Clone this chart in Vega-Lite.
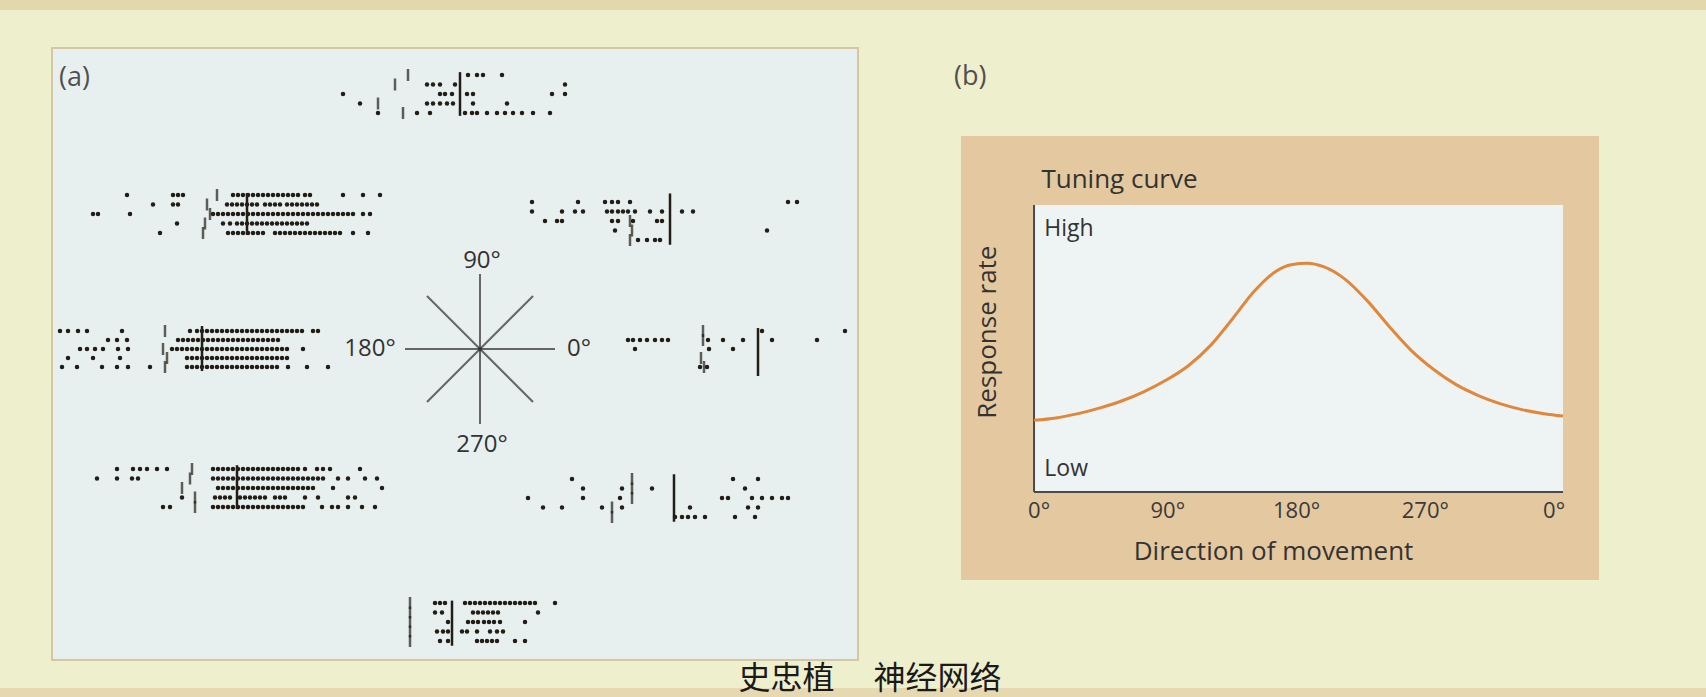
{
"$schema": "https://vega.github.io/schema/vega-lite/v6.json",
"width": 1706, "height": 697,
"autosize": {"type": "none"},
"padding": 0,
"background": "#eeefcd",
"config": {"view": {"stroke": null}, "font": "Open Sans"},
"datasets": {
"star": [{"dir": 0}, {"dir": 45}, {"dir": 90}, {"dir": 135}],
"ticklabels": [{"deg": 0, "lab": "0°"}, {"deg": 90, "lab": "90°"}, {"deg": 180, "lab": "180°"}, {"deg": 270, "lab": "270°"}, {"deg": 360, "lab": "0°"}],
"curve": [{"deg":0,"rate":0.25},{"deg":15,"rate":0.258},{"deg":30,"rate":0.273},{"deg":45,"rate":0.293},{"deg":60,"rate":0.318},{"deg":75,"rate":0.35},{"deg":90,"rate":0.39},{"deg":105,"rate":0.44},{"deg":120,"rate":0.51},{"deg":135,"rate":0.603},{"deg":150,"rate":0.7},{"deg":165,"rate":0.77},{"deg":175,"rate":0.792},{"deg":186,"rate":0.797},{"deg":197,"rate":0.785},{"deg":212,"rate":0.74},{"deg":227,"rate":0.665},{"deg":242,"rate":0.575},{"deg":257,"rate":0.492},{"deg":272,"rate":0.427},{"deg":287,"rate":0.375},{"deg":302,"rate":0.337},{"deg":317,"rate":0.308},{"deg":332,"rate":0.287},{"deg":347,"rate":0.273},{"deg":360,"rate":0.265}],
"targets": [
{"d":90,"r":1,"t":-260},{"d":90,"r":2,"t":-325},{"d":90,"r":4,"t":-410},{"d":90,"r":5,"t":-285},
{"d":135,"r":1,"t":-150},{"d":135,"r":2,"t":-200},{"d":135,"r":3,"t":-185},{"d":135,"r":4,"t":-210},{"d":135,"r":5,"t":-220},
{"d":45,"r":3,"t":-200},{"d":45,"r":4,"t":-190},{"d":45,"r":5,"t":-200},
{"d":180,"r":1,"t":-185},{"d":180,"r":3,"t":-195},{"d":180,"r":4,"t":-175},{"d":180,"r":5,"t":-185},
{"d":0,"r":1,"t":-275},{"d":0,"r":2,"t":-275},{"d":0,"r":4,"t":-285},{"d":0,"r":5,"t":-270},
{"d":225,"r":1,"t":-225},{"d":225,"r":2,"t":-235},{"d":225,"r":3,"t":-275},{"d":225,"r":4,"t":-210},{"d":225,"r":5,"t":-210},
{"d":315,"r":1,"t":-210},{"d":315,"r":2,"t":-210},{"d":315,"r":3,"t":-210},{"d":315,"r":4,"t":-310},{"d":315,"r":5,"t":-310},
{"d":270,"r":1,"t":-210},{"d":270,"r":2,"t":-210},{"d":270,"r":3,"t":-210},{"d":270,"r":4,"t":-210},{"d":270,"r":5,"t":-210}
],
"spikes": [
{"d":90,"r":1,"t":40},{"d":90,"r":1,"t":85},{"d":90,"r":1,"t":115},{"d":90,"r":1,"t":210},
{"d":90,"r":2,"t":-165},{"d":90,"r":2,"t":-135},{"d":90,"r":2,"t":-100},{"d":90,"r":2,"t":-25},{"d":90,"r":2,"t":525},
{"d":90,"r":3,"t":-585},{"d":90,"r":3,"t":-100},{"d":90,"r":3,"t":-75},{"d":90,"r":3,"t":-40},{"d":90,"r":3,"t":35},{"d":90,"r":3,"t":65},{"d":90,"r":3,"t":460},{"d":90,"r":3,"t":525},
{"d":90,"r":4,"t":-500},{"d":90,"r":4,"t":-165},{"d":90,"r":4,"t":-135},{"d":90,"r":4,"t":-100},{"d":90,"r":4,"t":-65},{"d":90,"r":4,"t":-35},{"d":90,"r":4,"t":65},{"d":90,"r":4,"t":235},
{"d":90,"r":5,"t":-410},{"d":90,"r":5,"t":-215},{"d":90,"r":5,"t":-150},{"d":90,"r":5,"t":25},{"d":90,"r":5,"t":60},{"d":90,"r":5,"t":85},{"d":90,"r":5,"t":135},{"d":90,"r":5,"t":185},{"d":90,"r":5,"t":225},{"d":90,"r":5,"t":265},{"d":90,"r":5,"t":310},{"d":90,"r":5,"t":365},{"d":90,"r":5,"t":450},

{"d":135,"r":1,"t":-600},{"d":135,"r":1,"t":-370},{"d":135,"r":1,"t":-345},{"d":135,"r":1,"t":-320},{"d":135,"r":1,"t":-70},{"d":135,"r":1,"t":-45},{"d":135,"r":1,"t":-20},{"d":135,"r":1,"t":5},{"d":135,"r":1,"t":30},{"d":135,"r":1,"t":55},{"d":135,"r":1,"t":80},{"d":135,"r":1,"t":105},{"d":135,"r":1,"t":130},{"d":135,"r":1,"t":155},{"d":135,"r":1,"t":180},{"d":135,"r":1,"t":205},{"d":135,"r":1,"t":230},{"d":135,"r":1,"t":255},{"d":135,"r":1,"t":290},{"d":135,"r":1,"t":315},{"d":135,"r":1,"t":480},{"d":135,"r":1,"t":580},{"d":135,"r":1,"t":665},
{"d":135,"r":2,"t":-470},{"d":135,"r":2,"t":-370},{"d":135,"r":2,"t":-345},{"d":135,"r":2,"t":-100},{"d":135,"r":2,"t":-75},{"d":135,"r":2,"t":-50},{"d":135,"r":2,"t":-25},{"d":135,"r":2,"t":0},{"d":135,"r":2,"t":25},{"d":135,"r":2,"t":50},{"d":135,"r":2,"t":90},{"d":135,"r":2,"t":115},{"d":135,"r":2,"t":140},{"d":135,"r":2,"t":165},{"d":135,"r":2,"t":200},{"d":135,"r":2,"t":225},{"d":135,"r":2,"t":250},{"d":135,"r":2,"t":275},{"d":135,"r":2,"t":300},{"d":135,"r":2,"t":325},{"d":135,"r":2,"t":350},
{"d":135,"r":3,"t":-770},{"d":135,"r":3,"t":-745},{"d":135,"r":3,"t":-585},{"d":135,"r":3,"t":-170},{"d":135,"r":3,"t":-145},{"d":135,"r":3,"t":-120},{"d":135,"r":3,"t":-95},{"d":135,"r":3,"t":-70},{"d":135,"r":3,"t":-45},{"d":135,"r":3,"t":-20},{"d":135,"r":3,"t":5},{"d":135,"r":3,"t":30},{"d":135,"r":3,"t":55},{"d":135,"r":3,"t":80},{"d":135,"r":3,"t":105},{"d":135,"r":3,"t":130},{"d":135,"r":3,"t":155},{"d":135,"r":3,"t":180},{"d":135,"r":3,"t":205},{"d":135,"r":3,"t":230},{"d":135,"r":3,"t":255},{"d":135,"r":3,"t":280},{"d":135,"r":3,"t":305},{"d":135,"r":3,"t":330},{"d":135,"r":3,"t":355},{"d":135,"r":3,"t":380},{"d":135,"r":3,"t":405},{"d":135,"r":3,"t":430},{"d":135,"r":3,"t":455},{"d":135,"r":3,"t":480},{"d":135,"r":3,"t":505},{"d":135,"r":3,"t":530},{"d":135,"r":3,"t":580},{"d":135,"r":3,"t":615},
{"d":135,"r":4,"t":-350},{"d":135,"r":4,"t":-120},{"d":135,"r":4,"t":-85},{"d":135,"r":4,"t":-50},{"d":135,"r":4,"t":-25},{"d":135,"r":4,"t":0},{"d":135,"r":4,"t":25},{"d":135,"r":4,"t":50},{"d":135,"r":4,"t":75},{"d":135,"r":4,"t":100},{"d":135,"r":4,"t":125},{"d":135,"r":4,"t":150},{"d":135,"r":4,"t":175},{"d":135,"r":4,"t":200},{"d":135,"r":4,"t":225},{"d":135,"r":4,"t":250},{"d":135,"r":4,"t":275},{"d":135,"r":4,"t":300},
{"d":135,"r":5,"t":-435},{"d":135,"r":5,"t":-95},{"d":135,"r":5,"t":-70},{"d":135,"r":5,"t":-45},{"d":135,"r":5,"t":-20},{"d":135,"r":5,"t":5},{"d":135,"r":5,"t":30},{"d":135,"r":5,"t":55},{"d":135,"r":5,"t":80},{"d":135,"r":5,"t":140},{"d":135,"r":5,"t":165},{"d":135,"r":5,"t":190},{"d":135,"r":5,"t":215},{"d":135,"r":5,"t":240},{"d":135,"r":5,"t":265},{"d":135,"r":5,"t":290},{"d":135,"r":5,"t":315},{"d":135,"r":5,"t":340},{"d":135,"r":5,"t":365},{"d":135,"r":5,"t":390},{"d":135,"r":5,"t":415},{"d":135,"r":5,"t":440},{"d":135,"r":5,"t":465},{"d":135,"r":5,"t":530},{"d":135,"r":5,"t":605},

{"d":45,"r":1,"t":-690},{"d":45,"r":1,"t":-460},{"d":45,"r":1,"t":-325},{"d":45,"r":1,"t":-290},{"d":45,"r":1,"t":-260},{"d":45,"r":1,"t":-200},{"d":45,"r":1,"t":590},{"d":45,"r":1,"t":635},
{"d":45,"r":2,"t":-690},{"d":45,"r":2,"t":-540},{"d":45,"r":2,"t":-475},{"d":45,"r":2,"t":-435},{"d":45,"r":2,"t":-315},{"d":45,"r":2,"t":-290},{"d":45,"r":2,"t":-260},{"d":45,"r":2,"t":-235},{"d":45,"r":2,"t":-210},{"d":45,"r":2,"t":-175},{"d":45,"r":2,"t":-100},{"d":45,"r":2,"t":-40},{"d":45,"r":2,"t":60},{"d":45,"r":2,"t":115},
{"d":45,"r":3,"t":-625},{"d":45,"r":3,"t":-565},{"d":45,"r":3,"t":-540},{"d":45,"r":3,"t":-290},{"d":45,"r":3,"t":-260},{"d":45,"r":3,"t":-185},{"d":45,"r":3,"t":-65},{"d":45,"r":3,"t":-40},
{"d":45,"r":4,"t":-275},{"d":45,"r":4,"t":485},
{"d":45,"r":5,"t":-160},{"d":45,"r":5,"t":-115},{"d":45,"r":5,"t":-75},{"d":45,"r":5,"t":-50},

{"d":180,"r":1,"t":-710},{"d":180,"r":1,"t":-670},{"d":180,"r":1,"t":-620},{"d":180,"r":1,"t":-575},{"d":180,"r":1,"t":-400},{"d":180,"r":1,"t":-60},{"d":180,"r":1,"t":-25},{"d":180,"r":1,"t":0},{"d":180,"r":1,"t":25},{"d":180,"r":1,"t":50},{"d":180,"r":1,"t":75},{"d":180,"r":1,"t":100},{"d":180,"r":1,"t":125},{"d":180,"r":1,"t":150},{"d":180,"r":1,"t":175},{"d":180,"r":1,"t":200},{"d":180,"r":1,"t":225},{"d":180,"r":1,"t":250},{"d":180,"r":1,"t":275},{"d":180,"r":1,"t":300},{"d":180,"r":1,"t":325},{"d":180,"r":1,"t":350},{"d":180,"r":1,"t":375},{"d":180,"r":1,"t":400},{"d":180,"r":1,"t":425},{"d":180,"r":1,"t":450},{"d":180,"r":1,"t":475},{"d":180,"r":1,"t":500},{"d":180,"r":1,"t":555},{"d":180,"r":1,"t":580},
{"d":180,"r":2,"t":-470},{"d":180,"r":2,"t":-425},{"d":180,"r":2,"t":-375},{"d":180,"r":2,"t":-120},{"d":180,"r":2,"t":-95},{"d":180,"r":2,"t":-70},{"d":180,"r":2,"t":-45},{"d":180,"r":2,"t":-20},{"d":180,"r":2,"t":5},{"d":180,"r":2,"t":30},{"d":180,"r":2,"t":55},{"d":180,"r":2,"t":80},{"d":180,"r":2,"t":105},{"d":180,"r":2,"t":130},{"d":180,"r":2,"t":155},{"d":180,"r":2,"t":180},{"d":180,"r":2,"t":205},{"d":180,"r":2,"t":230},{"d":180,"r":2,"t":255},{"d":180,"r":2,"t":280},{"d":180,"r":2,"t":305},{"d":180,"r":2,"t":330},{"d":180,"r":2,"t":355},{"d":180,"r":2,"t":380},
{"d":180,"r":3,"t":-610},{"d":180,"r":3,"t":-575},{"d":180,"r":3,"t":-535},{"d":180,"r":3,"t":-495},{"d":180,"r":3,"t":-420},{"d":180,"r":3,"t":-370},{"d":180,"r":3,"t":-150},{"d":180,"r":3,"t":-125},{"d":180,"r":3,"t":-100},{"d":180,"r":3,"t":-75},{"d":180,"r":3,"t":-50},{"d":180,"r":3,"t":-25},{"d":180,"r":3,"t":0},{"d":180,"r":3,"t":25},{"d":180,"r":3,"t":50},{"d":180,"r":3,"t":75},{"d":180,"r":3,"t":100},{"d":180,"r":3,"t":125},{"d":180,"r":3,"t":150},{"d":180,"r":3,"t":175},{"d":180,"r":3,"t":200},{"d":180,"r":3,"t":225},{"d":180,"r":3,"t":250},{"d":180,"r":3,"t":275},{"d":180,"r":3,"t":300},{"d":180,"r":3,"t":325},{"d":180,"r":3,"t":350},{"d":180,"r":3,"t":375},{"d":180,"r":3,"t":400},{"d":180,"r":3,"t":425},{"d":180,"r":3,"t":505},
{"d":180,"r":4,"t":-670},{"d":180,"r":4,"t":-545},{"d":180,"r":4,"t":-410},{"d":180,"r":4,"t":-75},{"d":180,"r":4,"t":-50},{"d":180,"r":4,"t":-25},{"d":180,"r":4,"t":0},{"d":180,"r":4,"t":25},{"d":180,"r":4,"t":50},{"d":180,"r":4,"t":75},{"d":180,"r":4,"t":100},{"d":180,"r":4,"t":125},{"d":180,"r":4,"t":150},{"d":180,"r":4,"t":175},{"d":180,"r":4,"t":200},{"d":180,"r":4,"t":225},{"d":180,"r":4,"t":250},{"d":180,"r":4,"t":275},{"d":180,"r":4,"t":300},{"d":180,"r":4,"t":325},{"d":180,"r":4,"t":350},{"d":180,"r":4,"t":375},{"d":180,"r":4,"t":400},{"d":180,"r":4,"t":425},
{"d":180,"r":5,"t":-700},{"d":180,"r":5,"t":-625},{"d":180,"r":5,"t":-500},{"d":180,"r":5,"t":-425},{"d":180,"r":5,"t":-370},{"d":180,"r":5,"t":-260},{"d":180,"r":5,"t":-75},{"d":180,"r":5,"t":-50},{"d":180,"r":5,"t":-25},{"d":180,"r":5,"t":0},{"d":180,"r":5,"t":25},{"d":180,"r":5,"t":50},{"d":180,"r":5,"t":75},{"d":180,"r":5,"t":100},{"d":180,"r":5,"t":125},{"d":180,"r":5,"t":150},{"d":180,"r":5,"t":175},{"d":180,"r":5,"t":200},{"d":180,"r":5,"t":225},{"d":180,"r":5,"t":250},{"d":180,"r":5,"t":275},{"d":180,"r":5,"t":300},{"d":180,"r":5,"t":325},{"d":180,"r":5,"t":350},{"d":180,"r":5,"t":375},{"d":180,"r":5,"t":430},{"d":180,"r":5,"t":525},{"d":180,"r":5,"t":630},

{"d":0,"r":1,"t":20},{"d":0,"r":1,"t":435},
{"d":0,"r":2,"t":-650},{"d":0,"r":2,"t":-625},{"d":0,"r":2,"t":-590},{"d":0,"r":2,"t":-555},{"d":0,"r":2,"t":-515},{"d":0,"r":2,"t":-480},{"d":0,"r":2,"t":-450},{"d":0,"r":2,"t":-250},{"d":0,"r":2,"t":-175},{"d":0,"r":2,"t":-75},{"d":0,"r":2,"t":70},{"d":0,"r":2,"t":295},
{"d":0,"r":3,"t":-615},{"d":0,"r":3,"t":-245},{"d":0,"r":3,"t":-125},
{"d":0,"r":5,"t":-290},{"d":0,"r":5,"t":-255},

{"d":225,"r":1,"t":-600},{"d":225,"r":1,"t":-520},{"d":225,"r":1,"t":-485},{"d":225,"r":1,"t":-450},{"d":225,"r":1,"t":-400},{"d":225,"r":1,"t":-350},{"d":225,"r":1,"t":-120},{"d":225,"r":1,"t":-95},{"d":225,"r":1,"t":-70},{"d":225,"r":1,"t":-45},{"d":225,"r":1,"t":-20},{"d":225,"r":1,"t":5},{"d":225,"r":1,"t":30},{"d":225,"r":1,"t":55},{"d":225,"r":1,"t":80},{"d":225,"r":1,"t":105},{"d":225,"r":1,"t":130},{"d":225,"r":1,"t":155},{"d":225,"r":1,"t":180},{"d":225,"r":1,"t":205},{"d":225,"r":1,"t":230},{"d":225,"r":1,"t":255},{"d":225,"r":1,"t":280},{"d":225,"r":1,"t":305},{"d":225,"r":1,"t":340},{"d":225,"r":1,"t":400},{"d":225,"r":1,"t":430},{"d":225,"r":1,"t":465},{"d":225,"r":1,"t":615},
{"d":225,"r":2,"t":-700},{"d":225,"r":2,"t":-600},{"d":225,"r":2,"t":-525},{"d":225,"r":2,"t":-495},{"d":225,"r":2,"t":-120},{"d":225,"r":2,"t":-95},{"d":225,"r":2,"t":-70},{"d":225,"r":2,"t":-45},{"d":225,"r":2,"t":-20},{"d":225,"r":2,"t":5},{"d":225,"r":2,"t":30},{"d":225,"r":2,"t":55},{"d":225,"r":2,"t":80},{"d":225,"r":2,"t":105},{"d":225,"r":2,"t":130},{"d":225,"r":2,"t":155},{"d":225,"r":2,"t":180},{"d":225,"r":2,"t":205},{"d":225,"r":2,"t":230},{"d":225,"r":2,"t":255},{"d":225,"r":2,"t":280},{"d":225,"r":2,"t":305},{"d":225,"r":2,"t":330},{"d":225,"r":2,"t":355},{"d":225,"r":2,"t":380},{"d":225,"r":2,"t":405},{"d":225,"r":2,"t":430},{"d":225,"r":2,"t":505},{"d":225,"r":2,"t":555},{"d":225,"r":2,"t":640},{"d":225,"r":2,"t":700},
{"d":225,"r":3,"t":-95},{"d":225,"r":3,"t":-70},{"d":225,"r":3,"t":-45},{"d":225,"r":3,"t":-20},{"d":225,"r":3,"t":5},{"d":225,"r":3,"t":30},{"d":225,"r":3,"t":55},{"d":225,"r":3,"t":80},{"d":225,"r":3,"t":105},{"d":225,"r":3,"t":130},{"d":225,"r":3,"t":155},{"d":225,"r":3,"t":180},{"d":225,"r":3,"t":205},{"d":225,"r":3,"t":230},{"d":225,"r":3,"t":255},{"d":225,"r":3,"t":280},{"d":225,"r":3,"t":305},{"d":225,"r":3,"t":330},{"d":225,"r":3,"t":355},{"d":225,"r":3,"t":380},{"d":225,"r":3,"t":480},{"d":225,"r":3,"t":725},
{"d":225,"r":4,"t":-275},{"d":225,"r":4,"t":-110},{"d":225,"r":4,"t":-85},{"d":225,"r":4,"t":-60},{"d":225,"r":4,"t":-35},{"d":225,"r":4,"t":15},{"d":225,"r":4,"t":40},{"d":225,"r":4,"t":65},{"d":225,"r":4,"t":90},{"d":225,"r":4,"t":115},{"d":225,"r":4,"t":140},{"d":225,"r":4,"t":190},{"d":225,"r":4,"t":215},{"d":225,"r":4,"t":240},{"d":225,"r":4,"t":340},{"d":225,"r":4,"t":405},{"d":225,"r":4,"t":555},{"d":225,"r":4,"t":590},
{"d":225,"r":5,"t":-370},{"d":225,"r":5,"t":-335},{"d":225,"r":5,"t":-120},{"d":225,"r":5,"t":-95},{"d":225,"r":5,"t":-70},{"d":225,"r":5,"t":-45},{"d":225,"r":5,"t":-20},{"d":225,"r":5,"t":5},{"d":225,"r":5,"t":30},{"d":225,"r":5,"t":55},{"d":225,"r":5,"t":80},{"d":225,"r":5,"t":105},{"d":225,"r":5,"t":130},{"d":225,"r":5,"t":155},{"d":225,"r":5,"t":180},{"d":225,"r":5,"t":205},{"d":225,"r":5,"t":230},{"d":225,"r":5,"t":255},{"d":225,"r":5,"t":280},{"d":225,"r":5,"t":305},{"d":225,"r":5,"t":330},{"d":225,"r":5,"t":425},{"d":225,"r":5,"t":475},{"d":225,"r":5,"t":505},{"d":225,"r":5,"t":555},{"d":225,"r":5,"t":625},{"d":225,"r":5,"t":690},

{"d":315,"r":1,"t":-510},{"d":315,"r":1,"t":295},{"d":315,"r":1,"t":420},
{"d":315,"r":2,"t":-455},{"d":315,"r":2,"t":-260},{"d":315,"r":2,"t":-110},{"d":315,"r":2,"t":355},
{"d":315,"r":3,"t":-730},{"d":315,"r":3,"t":-455},{"d":315,"r":3,"t":-270},{"d":315,"r":3,"t":240},{"d":315,"r":3,"t":270},{"d":315,"r":3,"t":390},{"d":315,"r":3,"t":440},{"d":315,"r":3,"t":490},{"d":315,"r":3,"t":540},{"d":315,"r":3,"t":570},
{"d":315,"r":4,"t":-655},{"d":315,"r":4,"t":-560},{"d":315,"r":4,"t":-360},{"d":315,"r":4,"t":-260},{"d":315,"r":4,"t":80},{"d":315,"r":4,"t":370},{"d":315,"r":4,"t":420},
{"d":315,"r":5,"t":5},{"d":315,"r":5,"t":40},{"d":315,"r":5,"t":70},{"d":315,"r":5,"t":105},{"d":315,"r":5,"t":155},{"d":315,"r":5,"t":305},{"d":315,"r":5,"t":405},

{"d":270,"r":1,"t":-85},{"d":270,"r":1,"t":-60},{"d":270,"r":1,"t":-35},{"d":270,"r":1,"t":65},{"d":270,"r":1,"t":90},{"d":270,"r":1,"t":115},{"d":270,"r":1,"t":140},{"d":270,"r":1,"t":165},{"d":270,"r":1,"t":190},{"d":270,"r":1,"t":215},{"d":270,"r":1,"t":240},{"d":270,"r":1,"t":265},{"d":270,"r":1,"t":290},{"d":270,"r":1,"t":315},{"d":270,"r":1,"t":340},{"d":270,"r":1,"t":365},{"d":270,"r":1,"t":390},{"d":270,"r":1,"t":415},{"d":270,"r":1,"t":515},
{"d":270,"r":2,"t":-85},{"d":270,"r":2,"t":-50},{"d":270,"r":2,"t":105},{"d":270,"r":2,"t":130},{"d":270,"r":2,"t":155},{"d":270,"r":2,"t":180},{"d":270,"r":2,"t":205},{"d":270,"r":2,"t":230},{"d":270,"r":2,"t":430},
{"d":270,"r":3,"t":-20},{"d":270,"r":3,"t":80},{"d":270,"r":3,"t":105},{"d":270,"r":3,"t":130},{"d":270,"r":3,"t":160},{"d":270,"r":3,"t":185},{"d":270,"r":3,"t":210},{"d":270,"r":3,"t":240},{"d":270,"r":3,"t":365},
{"d":270,"r":4,"t":-75},{"d":270,"r":4,"t":-45},{"d":270,"r":4,"t":-20},{"d":270,"r":4,"t":50},{"d":270,"r":4,"t":75},{"d":270,"r":4,"t":125},{"d":270,"r":4,"t":190},{"d":270,"r":4,"t":225},{"d":270,"r":4,"t":255},
{"d":270,"r":5,"t":-60},{"d":270,"r":5,"t":-20},{"d":270,"r":5,"t":125},{"d":270,"r":5,"t":150},{"d":270,"r":5,"t":175},{"d":270,"r":5,"t":200},{"d":270,"r":5,"t":225},{"d":270,"r":5,"t":315},{"d":270,"r":5,"t":365}
]
},
"resolve": {"scale": {"x": "independent", "y": "independent"}},
"layer": [
{
 "data": {"values": [{}]},
 "layer": [
  {"mark": {"type": "rect", "color": "#e3d7ad"}, "encoding": {"x": {"datum": 0, "type": "quantitative", "scale": {"domain": [0, 1706], "nice": false, "zero": false}, "axis": null}, "x2": {"datum": 1706}, "y": {"datum": 0, "type": "quantitative", "scale": {"domain": [0, 697], "nice": false, "zero": false, "reverse": true}, "axis": null}, "y2": {"datum": 10}}},
  {"mark": {"type": "rect", "color": "#e6d9b1"}, "encoding": {"x": {"datum": 0, "type": "quantitative", "scale": {"domain": [0, 1706], "nice": false, "zero": false}, "axis": null}, "x2": {"datum": 1706}, "y": {"datum": 688, "type": "quantitative", "scale": {"domain": [0, 697], "nice": false, "zero": false, "reverse": true}, "axis": null}, "y2": {"datum": 697}}},
  {"mark": {"type": "rect", "fill": "#e8f0ef", "stroke": "#d5c7a2", "strokeWidth": 2}, "encoding": {"x": {"datum": 52, "type": "quantitative", "scale": {"domain": [0, 1706], "nice": false, "zero": false}, "axis": null}, "x2": {"datum": 858}, "y": {"datum": 48, "type": "quantitative", "scale": {"domain": [0, 697], "nice": false, "zero": false, "reverse": true}, "axis": null}, "y2": {"datum": 660}}},
  {"mark": {"type": "text", "text": "(a)", "align": "left", "baseline": "middle", "fontSize": 27, "color": "#505050"}, "encoding": {"x": {"datum": 59, "type": "quantitative", "scale": {"domain": [0, 1706], "nice": false, "zero": false}, "axis": null}, "y": {"datum": 78, "type": "quantitative", "scale": {"domain": [0, 697], "nice": false, "zero": false, "reverse": true}, "axis": null}}},
  {"data": {"name": "star"}, "mark": {"type": "point", "shape": "M-1,0L1,0", "size": 22500, "filled": false, "stroke": "#666666", "strokeWidth": 2, "opacity": 1}, "encoding": {"x": {"datum": 480, "type": "quantitative", "scale": {"domain": [0, 1706], "nice": false, "zero": false}, "axis": null}, "y": {"datum": 349, "type": "quantitative", "scale": {"domain": [0, 697], "nice": false, "zero": false, "reverse": true}, "axis": null}, "angle": {"field": "dir", "type": "quantitative", "scale": null}}},
  {"mark": {"type": "point", "filled": true, "size": 16, "color": "#333333", "opacity": 1}, "encoding": {"x": {"datum": 480, "type": "quantitative", "scale": {"domain": [0, 1706], "nice": false, "zero": false}, "axis": null}, "y": {"datum": 349, "type": "quantitative", "scale": {"domain": [0, 697], "nice": false, "zero": false, "reverse": true}, "axis": null}}},
  {"mark": {"type": "text", "text": "90°", "align": "center", "baseline": "middle", "fontSize": 24, "color": "#333333"}, "encoding": {"x": {"datum": 482, "type": "quantitative", "scale": {"domain": [0, 1706], "nice": false, "zero": false}, "axis": null}, "y": {"datum": 261, "type": "quantitative", "scale": {"domain": [0, 697], "nice": false, "zero": false, "reverse": true}, "axis": null}}},
  {"mark": {"type": "text", "text": "180°", "align": "center", "baseline": "middle", "fontSize": 24, "color": "#333333"}, "encoding": {"x": {"datum": 370, "type": "quantitative", "scale": {"domain": [0, 1706], "nice": false, "zero": false}, "axis": null}, "y": {"datum": 349, "type": "quantitative", "scale": {"domain": [0, 697], "nice": false, "zero": false, "reverse": true}, "axis": null}}},
  {"mark": {"type": "text", "text": "0°", "align": "center", "baseline": "middle", "fontSize": 24, "color": "#333333"}, "encoding": {"x": {"datum": 579, "type": "quantitative", "scale": {"domain": [0, 1706], "nice": false, "zero": false}, "axis": null}, "y": {"datum": 349, "type": "quantitative", "scale": {"domain": [0, 697], "nice": false, "zero": false, "reverse": true}, "axis": null}}},
  {"mark": {"type": "text", "text": "270°", "align": "center", "baseline": "middle", "fontSize": 24, "color": "#333333"}, "encoding": {"x": {"datum": 482, "type": "quantitative", "scale": {"domain": [0, 1706], "nice": false, "zero": false}, "axis": null}, "y": {"datum": 445, "type": "quantitative", "scale": {"domain": [0, 697], "nice": false, "zero": false, "reverse": true}, "axis": null}}},
  {"mark": {"type": "text", "text": "(b)", "align": "left", "baseline": "middle", "fontSize": 27, "color": "#505050"}, "encoding": {"x": {"datum": 954, "type": "quantitative", "scale": {"domain": [0, 1706], "nice": false, "zero": false}, "axis": null}, "y": {"datum": 77, "type": "quantitative", "scale": {"domain": [0, 697], "nice": false, "zero": false, "reverse": true}, "axis": null}}},
  {"mark": {"type": "rect", "color": "#e3c8a0"}, "encoding": {"x": {"datum": 961, "type": "quantitative", "scale": {"domain": [0, 1706], "nice": false, "zero": false}, "axis": null}, "x2": {"datum": 1599}, "y": {"datum": 136, "type": "quantitative", "scale": {"domain": [0, 697], "nice": false, "zero": false, "reverse": true}, "axis": null}, "y2": {"datum": 580}}},
  {"mark": {"type": "text", "text": "史忠植　  神经网络", "align": "center", "baseline": "alphabetic", "fontSize": 32, "font": "Noto Sans CJK SC", "color": "#1a1a1a"}, "encoding": {"x": {"datum": 870, "type": "quantitative", "scale": {"domain": [0, 1706], "nice": false, "zero": false}, "axis": null}, "y": {"datum": 689, "type": "quantitative", "scale": {"domain": [0, 697], "nice": false, "zero": false, "reverse": true}, "axis": null}}}
 ]
},
{"layer": [
 {"data": {"name": "spikes"}, "transform": [{"filter": "datum.d == 90"}], "mark": {"type": "point", "filled": true, "size": 20, "color": "#221e17", "opacity": 1}, "encoding": {"x": {"field": "t", "type": "quantitative", "scale": {"domain": [-2300, 6230], "nice": false, "zero": false}, "axis": null}, "y": {"field": "r", "type": "quantitative", "scale": {"domain": [-6.8947, 66.474], "nice": false, "zero": false, "reverse": true}, "axis": null}}},
 {"data": {"name": "targets"}, "transform": [{"filter": "datum.d == 90"}], "mark": {"type": "tick", "orient": "vertical", "size": 12, "thickness": 2.5, "color": "#221e17"}, "encoding": {"x": {"field": "t", "type": "quantitative", "scale": {"domain": [-2300, 6230], "nice": false, "zero": false}, "axis": null}, "y": {"field": "r", "type": "quantitative", "scale": {"domain": [-6.8947, 66.474], "nice": false, "zero": false, "reverse": true}, "axis": null}}},
 {"data": {"values": [{"t": 0}]}, "mark": {"type": "rule", "color": "#221e17", "strokeWidth": 2.5}, "encoding": {"x": {"field": "t", "type": "quantitative", "scale": {"domain": [-2300, 6230], "nice": false, "zero": false}, "axis": null}, "y": {"datum": 0.7, "type": "quantitative", "scale": {"domain": [-6.8947, 66.474], "nice": false, "zero": false, "reverse": true}, "axis": null}, "y2": {"datum": 5.3}}}
]},
{"layer": [
 {"data": {"name": "spikes"}, "transform": [{"filter": "datum.d == 135"}], "mark": {"type": "point", "filled": true, "size": 20, "color": "#221e17", "opacity": 1}, "encoding": {"x": {"field": "t", "type": "quantitative", "scale": {"domain": [-1235, 7295], "nice": false, "zero": false}, "axis": null}, "y": {"field": "r", "type": "quantitative", "scale": {"domain": [-19.526, 53.842], "nice": false, "zero": false, "reverse": true}, "axis": null}}},
 {"data": {"name": "targets"}, "transform": [{"filter": "datum.d == 135"}], "mark": {"type": "tick", "orient": "vertical", "size": 12, "thickness": 2.5, "color": "#221e17"}, "encoding": {"x": {"field": "t", "type": "quantitative", "scale": {"domain": [-1235, 7295], "nice": false, "zero": false}, "axis": null}, "y": {"field": "r", "type": "quantitative", "scale": {"domain": [-19.526, 53.842], "nice": false, "zero": false, "reverse": true}, "axis": null}}},
 {"data": {"values": [{"t": 0}]}, "mark": {"type": "rule", "color": "#221e17", "strokeWidth": 2.5}, "encoding": {"x": {"field": "t", "type": "quantitative", "scale": {"domain": [-1235, 7295], "nice": false, "zero": false}, "axis": null}, "y": {"datum": 0.8, "type": "quantitative", "scale": {"domain": [-19.526, 53.842], "nice": false, "zero": false, "reverse": true}, "axis": null}, "y2": {"datum": 5.2}}}
]},
{"layer": [
 {"data": {"name": "spikes"}, "transform": [{"filter": "datum.d == 45"}], "mark": {"type": "point", "filled": true, "size": 20, "color": "#221e17", "opacity": 1}, "encoding": {"x": {"field": "t", "type": "quantitative", "scale": {"domain": [-3350, 5180], "nice": false, "zero": false}, "axis": null}, "y": {"field": "r", "type": "quantitative", "scale": {"domain": [-20.263, 53.105], "nice": false, "zero": false, "reverse": true}, "axis": null}}},
 {"data": {"name": "targets"}, "transform": [{"filter": "datum.d == 45"}], "mark": {"type": "tick", "orient": "vertical", "size": 12, "thickness": 2.5, "color": "#221e17"}, "encoding": {"x": {"field": "t", "type": "quantitative", "scale": {"domain": [-3350, 5180], "nice": false, "zero": false}, "axis": null}, "y": {"field": "r", "type": "quantitative", "scale": {"domain": [-20.263, 53.105], "nice": false, "zero": false, "reverse": true}, "axis": null}}},
 {"data": {"values": [{"t": 0}]}, "mark": {"type": "rule", "color": "#221e17", "strokeWidth": 2.5}, "encoding": {"x": {"field": "t", "type": "quantitative", "scale": {"domain": [-3350, 5180], "nice": false, "zero": false}, "axis": null}, "y": {"datum": 0.1, "type": "quantitative", "scale": {"domain": [-20.263, 53.105], "nice": false, "zero": false, "reverse": true}, "axis": null}, "y2": {"datum": 5.5}}}
]},
{"layer": [
 {"data": {"name": "spikes"}, "transform": [{"filter": "datum.d == 180"}], "mark": {"type": "point", "filled": true, "size": 20, "color": "#221e17", "opacity": 1}, "encoding": {"x": {"field": "t", "type": "quantitative", "scale": {"domain": [-1010, 7520], "nice": false, "zero": false}, "axis": null}, "y": {"field": "r", "type": "quantitative", "scale": {"domain": [-35.778, 41.667], "nice": false, "zero": false, "reverse": true}, "axis": null}}},
 {"data": {"name": "targets"}, "transform": [{"filter": "datum.d == 180"}], "mark": {"type": "tick", "orient": "vertical", "size": 12, "thickness": 2.5, "color": "#221e17"}, "encoding": {"x": {"field": "t", "type": "quantitative", "scale": {"domain": [-1010, 7520], "nice": false, "zero": false}, "axis": null}, "y": {"field": "r", "type": "quantitative", "scale": {"domain": [-35.778, 41.667], "nice": false, "zero": false, "reverse": true}, "axis": null}}},
 {"data": {"values": [{"t": 0}]}, "mark": {"type": "rule", "color": "#221e17", "strokeWidth": 2.5}, "encoding": {"x": {"field": "t", "type": "quantitative", "scale": {"domain": [-1010, 7520], "nice": false, "zero": false}, "axis": null}, "y": {"datum": 0.45, "type": "quantitative", "scale": {"domain": [-35.778, 41.667], "nice": false, "zero": false, "reverse": true}, "axis": null}, "y2": {"datum": 5.45}}}
]},
{"layer": [
 {"data": {"name": "spikes"}, "transform": [{"filter": "datum.d == 0"}], "mark": {"type": "point", "filled": true, "size": 20, "color": "#221e17", "opacity": 1}, "encoding": {"x": {"field": "t", "type": "quantitative", "scale": {"domain": [-3790, 4740], "nice": false, "zero": false}, "axis": null}, "y": {"field": "r", "type": "quantitative", "scale": {"domain": [-35.778, 41.667], "nice": false, "zero": false, "reverse": true}, "axis": null}}},
 {"data": {"name": "targets"}, "transform": [{"filter": "datum.d == 0"}], "mark": {"type": "tick", "orient": "vertical", "size": 12, "thickness": 2.5, "color": "#221e17"}, "encoding": {"x": {"field": "t", "type": "quantitative", "scale": {"domain": [-3790, 4740], "nice": false, "zero": false}, "axis": null}, "y": {"field": "r", "type": "quantitative", "scale": {"domain": [-35.778, 41.667], "nice": false, "zero": false, "reverse": true}, "axis": null}}},
 {"data": {"values": [{"t": 0}]}, "mark": {"type": "rule", "color": "#221e17", "strokeWidth": 2.5}, "encoding": {"x": {"field": "t", "type": "quantitative", "scale": {"domain": [-3790, 4740], "nice": false, "zero": false}, "axis": null}, "y": {"datum": 0.67, "type": "quantitative", "scale": {"domain": [-35.778, 41.667], "nice": false, "zero": false, "reverse": true}, "axis": null}, "y2": {"datum": 6.0}}}
]},
{"layer": [
 {"data": {"name": "spikes"}, "transform": [{"filter": "datum.d == 225"}], "mark": {"type": "point", "filled": true, "size": 20, "color": "#221e17", "opacity": 1}, "encoding": {"x": {"field": "t", "type": "quantitative", "scale": {"domain": [-1185, 7345], "nice": false, "zero": false}, "axis": null}, "y": {"field": "r", "type": "quantitative", "scale": {"domain": [-48.368, 25.0], "nice": false, "zero": false, "reverse": true}, "axis": null}}},
 {"data": {"name": "targets"}, "transform": [{"filter": "datum.d == 225"}], "mark": {"type": "tick", "orient": "vertical", "size": 12, "thickness": 2.5, "color": "#221e17"}, "encoding": {"x": {"field": "t", "type": "quantitative", "scale": {"domain": [-1185, 7345], "nice": false, "zero": false}, "axis": null}, "y": {"field": "r", "type": "quantitative", "scale": {"domain": [-48.368, 25.0], "nice": false, "zero": false, "reverse": true}, "axis": null}}},
 {"data": {"values": [{"t": 0}]}, "mark": {"type": "rule", "color": "#221e17", "strokeWidth": 2.5}, "encoding": {"x": {"field": "t", "type": "quantitative", "scale": {"domain": [-1185, 7345], "nice": false, "zero": false}, "axis": null}, "y": {"datum": 0.6, "type": "quantitative", "scale": {"domain": [-48.368, 25.0], "nice": false, "zero": false, "reverse": true}, "axis": null}, "y2": {"datum": 5.2}}}
]},
{"layer": [
 {"data": {"name": "spikes"}, "transform": [{"filter": "datum.d == 315"}], "mark": {"type": "point", "filled": true, "size": 20, "color": "#221e17", "opacity": 1}, "encoding": {"x": {"field": "t", "type": "quantitative", "scale": {"domain": [-3370, 5160], "nice": false, "zero": false}, "axis": null}, "y": {"field": "r", "type": "quantitative", "scale": {"domain": [-49.421, 23.947], "nice": false, "zero": false, "reverse": true}, "axis": null}}},
 {"data": {"name": "targets"}, "transform": [{"filter": "datum.d == 315"}], "mark": {"type": "tick", "orient": "vertical", "size": 12, "thickness": 2.5, "color": "#221e17"}, "encoding": {"x": {"field": "t", "type": "quantitative", "scale": {"domain": [-3370, 5160], "nice": false, "zero": false}, "axis": null}, "y": {"field": "r", "type": "quantitative", "scale": {"domain": [-49.421, 23.947], "nice": false, "zero": false, "reverse": true}, "axis": null}}},
 {"data": {"values": [{"t": 0}]}, "mark": {"type": "rule", "color": "#221e17", "strokeWidth": 2.5}, "encoding": {"x": {"field": "t", "type": "quantitative", "scale": {"domain": [-3370, 5160], "nice": false, "zero": false}, "axis": null}, "y": {"datum": 0.5, "type": "quantitative", "scale": {"domain": [-49.421, 23.947], "nice": false, "zero": false, "reverse": true}, "axis": null}, "y2": {"datum": 5.5}}}
]},
{"layer": [
 {"data": {"name": "spikes"}, "transform": [{"filter": "datum.d == 270"}], "mark": {"type": "point", "filled": true, "size": 20, "color": "#221e17", "opacity": 1}, "encoding": {"x": {"field": "t", "type": "quantitative", "scale": {"domain": [-2260, 6270], "nice": false, "zero": false}, "axis": null}, "y": {"field": "r", "type": "quantitative", "scale": {"domain": [-62.474, 10.895], "nice": false, "zero": false, "reverse": true}, "axis": null}}},
 {"data": {"name": "targets"}, "transform": [{"filter": "datum.d == 270"}], "mark": {"type": "tick", "orient": "vertical", "size": 12, "thickness": 2.5, "color": "#221e17"}, "encoding": {"x": {"field": "t", "type": "quantitative", "scale": {"domain": [-2260, 6270], "nice": false, "zero": false}, "axis": null}, "y": {"field": "r", "type": "quantitative", "scale": {"domain": [-62.474, 10.895], "nice": false, "zero": false, "reverse": true}, "axis": null}}},
 {"data": {"values": [{"t": 0}]}, "mark": {"type": "rule", "color": "#221e17", "strokeWidth": 2.5}, "encoding": {"x": {"field": "t", "type": "quantitative", "scale": {"domain": [-2260, 6270], "nice": false, "zero": false}, "axis": null}, "y": {"datum": 0.75, "type": "quantitative", "scale": {"domain": [-62.474, 10.895], "nice": false, "zero": false, "reverse": true}, "axis": null}, "y2": {"datum": 5.5}}}
]},
{"layer": [
 {"data": {"values": [{}]}, "mark": {"type": "rect", "color": "#eef4f3"}, "encoding": {"x": {"datum": 0, "type": "quantitative", "scale": {"domain": [-703.7, 457.3], "nice": false, "zero": false}, "axis": null}, "x2": {"datum": 360}, "y": {"datum": 0, "type": "quantitative", "scale": {"domain": [-0.7143, 1.7143], "nice": false, "zero": false}, "axis": null}, "y2": {"datum": 1}}},
 {"data": {"values": [{}]}, "mark": {"type": "rule", "color": "#4a4a4a", "strokeWidth": 2}, "encoding": {"x": {"datum": 0, "type": "quantitative", "scale": {"domain": [-703.7, 457.3], "nice": false, "zero": false}, "axis": null}, "y": {"datum": 0, "type": "quantitative", "scale": {"domain": [-0.7143, 1.7143], "nice": false, "zero": false}, "axis": null}, "y2": {"datum": 1}}},
 {"data": {"values": [{}]}, "mark": {"type": "rule", "color": "#4a4a4a", "strokeWidth": 2}, "encoding": {"x": {"datum": 0, "type": "quantitative", "scale": {"domain": [-703.7, 457.3], "nice": false, "zero": false}, "axis": null}, "x2": {"datum": 360}, "y": {"datum": 0, "type": "quantitative", "scale": {"domain": [-0.7143, 1.7143], "nice": false, "zero": false}, "axis": null}}},
 {"data": {"name": "curve"}, "mark": {"type": "line", "color": "#e0873c", "strokeWidth": 3, "interpolate": "monotone"}, "encoding": {"x": {"field": "deg", "type": "quantitative", "scale": {"domain": [-703.7, 457.3], "nice": false, "zero": false}, "axis": null}, "y": {"field": "rate", "type": "quantitative", "scale": {"domain": [-0.7143, 1.7143], "nice": false, "zero": false}, "axis": null}}},
 {"data": {"values": [{}]}, "mark": {"type": "text", "text": "Tuning curve", "align": "left", "baseline": "middle", "fontSize": 26, "color": "#333333"}, "encoding": {"x": {"datum": 5, "type": "quantitative", "scale": {"domain": [-703.7, 457.3], "nice": false, "zero": false}, "axis": null}, "y": {"datum": 1.087, "type": "quantitative", "scale": {"domain": [-0.7143, 1.7143], "nice": false, "zero": false}, "axis": null}}},
 {"data": {"values": [{}]}, "mark": {"type": "text", "text": "High", "align": "left", "baseline": "middle", "fontSize": 23, "color": "#333333"}, "encoding": {"x": {"datum": 7, "type": "quantitative", "scale": {"domain": [-703.7, 457.3], "nice": false, "zero": false}, "axis": null}, "y": {"datum": 0.915, "type": "quantitative", "scale": {"domain": [-0.7143, 1.7143], "nice": false, "zero": false}, "axis": null}}},
 {"data": {"values": [{}]}, "mark": {"type": "text", "text": "Low", "align": "left", "baseline": "middle", "fontSize": 23, "color": "#333333"}, "encoding": {"x": {"datum": 7, "type": "quantitative", "scale": {"domain": [-703.7, 457.3], "nice": false, "zero": false}, "axis": null}, "y": {"datum": 0.08, "type": "quantitative", "scale": {"domain": [-0.7143, 1.7143], "nice": false, "zero": false}, "axis": null}}},
 {"data": {"values": [{}]}, "mark": {"type": "text", "text": "Response rate", "align": "center", "baseline": "middle", "angle": 270, "fontSize": 26, "color": "#333333"}, "encoding": {"x": {"datum": -31, "type": "quantitative", "scale": {"domain": [-703.7, 457.3], "nice": false, "zero": false}, "axis": null}, "y": {"datum": 0.557, "type": "quantitative", "scale": {"domain": [-0.7143, 1.7143], "nice": false, "zero": false}, "axis": null}}},
 {"data": {"values": [{}]}, "mark": {"type": "text", "text": "Direction of movement", "align": "center", "baseline": "middle", "fontSize": 26, "color": "#333333"}, "encoding": {"x": {"datum": 163, "type": "quantitative", "scale": {"domain": [-703.7, 457.3], "nice": false, "zero": false}, "axis": null}, "y": {"datum": -0.21, "type": "quantitative", "scale": {"domain": [-0.7143, 1.7143], "nice": false, "zero": false}, "axis": null}}}
]},
{"data": {"name": "ticklabels"}, "mark": {"type": "text", "align": "center", "baseline": "middle", "fontSize": 22, "color": "#3a3a3a"}, "encoding": {"x": {"field": "deg", "type": "quantitative", "scale": {"domain": [-726.3, 466.2], "nice": false, "zero": false}, "axis": null}, "y": {"datum": -0.067, "type": "quantitative", "scale": {"domain": [-0.7143, 1.7143], "nice": false, "zero": false}, "axis": null}, "text": {"field": "lab"}}}
]
}
